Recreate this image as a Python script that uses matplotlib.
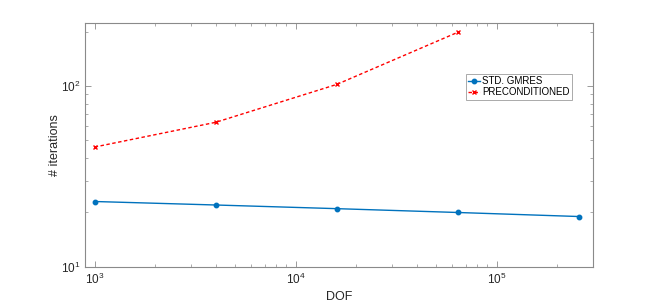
import matplotlib
matplotlib.use('Agg')
import matplotlib.pyplot as plt
from matplotlib.ticker import LogLocator

plt.rcParams['font.family'] = ['Liberation Sans', 'DejaVu Sans']
plt.rcParams['mathtext.fontset'] = 'custom'
plt.rcParams['mathtext.rm'] = 'Liberation Sans'

# data
dof = [1000, 4000, 16000, 64000, 256000]
gmres_std = [23, 22, 21, 20, 19]
dof_prec = [1000, 4000, 16000, 64000]
gmres_prec = [46, 63, 102, 198]

axcol = '#8a8a8a'

fig = plt.figure(figsize=(6.54, 3.02), dpi=100)
ax = fig.add_axes([0.13, 0.116, 0.7767, 0.809])

ax.plot(dof, gmres_std, '-o', color='#0072BD', lw=1.0, ms=3.2, label='STD. GMRES')
ax.plot(dof_prec, gmres_prec, '--x', color='#FF0000', lw=1.0, ms=3.5, mew=1.0,
        dashes=(2.5, 1.8), label='PRECONDITIONED')

ax.set_xscale('log')
ax.set_yscale('log')
ax.set_xlim(10**2.952, 10**5.479)
ax.set_ylim(10, 10**2.35)

ax.xaxis.set_major_locator(LogLocator(base=10, numticks=10))
ax.xaxis.set_minor_locator(LogLocator(base=10, subs=range(2, 10), numticks=20))
ax.yaxis.set_minor_locator(LogLocator(base=10, subs=range(2, 10), numticks=20))

for s in ax.spines.values():
    s.set_color(axcol)
    s.set_linewidth(0.8)
ax.tick_params(which='both', direction='in', top=True, right=True, color=axcol,
               labelcolor='#262626', labelsize=8.5)
ax.tick_params(which='major', length=4, width=0.6)
ax.tick_params(which='minor', length=2.5, width=0.5)

ax.set_xlabel('DOF', fontsize=9, color='#262626', labelpad=3)
ax.set_ylabel('# iterations', fontsize=9, color='#262626', labelpad=0)

leg = ax.legend(loc='upper left', bbox_to_anchor=(0.75, 0.79), fontsize=7.0,
                frameon=True, fancybox=False, framealpha=1, edgecolor='#aaaaaa',
                handlelength=1.2, handletextpad=0.2, borderpad=0.25,
                labelspacing=0.1, borderaxespad=0)
leg.get_frame().set_linewidth(0.7)

fig.savefig('out.png', dpi=100, facecolor='white')
